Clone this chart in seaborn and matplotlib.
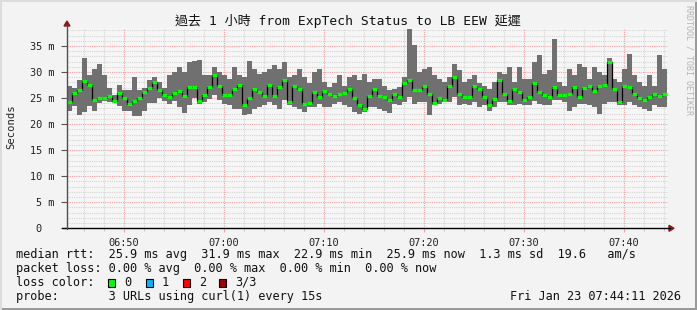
import numpy as np
import pandas as pd
import matplotlib
matplotlib.use("Agg")
import matplotlib.pyplot as plt
from matplotlib.lines import Line2D
from matplotlib.patches import Rectangle, Polygon
import seaborn as sns

# ---------------- data ----------------
start_minute = 44 + 20 / 60      # 06:44:20 expressed as minutes after 06:00
step_minutes = 0.5

rtt_max = [
    27.3, 27.0, 28.5, 32.7, 29.5, 30.5, 31.5, 29.5, 27.0, 25.5, 27.5, 26.5, 26.5, 29.0, 26.5, 27.0, 28.5, 29.0, 28.0, 27.0,
    29.4, 30.0, 31.0, 30.0, 32.0, 32.2, 32.4, 29.4, 29.4, 31.0, 30.0, 29.4, 28.7, 31.0, 29.4, 29.0, 32.2, 30.6, 29.7, 30.0,
    30.6, 31.3, 30.6, 31.9, 29.0, 29.4, 30.6, 29.0, 27.8, 30.0, 30.6, 28.1, 27.1, 27.8, 29.4, 27.4, 29.0, 29.4, 28.4, 29.7,
    28.1, 28.7, 28.7, 27.4, 26.5, 26.8, 27.1, 29.0, 38.3, 35.1, 30.0, 30.6, 31.0, 29.4, 28.7, 28.1, 29.0, 31.6, 30.3, 28.1,
    28.7, 29.4, 27.8, 27.4, 26.8, 28.1, 30.0, 29.7, 31.0, 28.1, 31.0, 28.7, 28.7, 31.9, 33.2, 29.7, 30.3, 36.4, 28.1, 27.4,
    30.6, 29.4, 31.6, 31.0, 28.7, 31.0, 30.0, 29.4, 32.6, 28.7, 28.1, 30.6, 33.5, 29.4, 28.1, 27.4, 29.4, 27.4, 33.2, 30.6,
]
rtt_min = [
    22.5, 23.5, 21.8, 22.4, 23.5, 22.5, 24.0, 24.5, 24.3, 24.2, 23.5, 22.5, 22.5, 21.5, 21.5, 22.5, 24.0, 24.0, 25.0, 24.5,
    23.9, 24.5, 23.3, 22.2, 23.6, 25.0, 23.9, 24.2, 24.9, 25.5, 24.6, 23.9, 23.6, 22.9, 22.9, 21.8, 22.0, 22.9, 23.3, 23.6,
    24.2, 23.6, 22.9, 24.6, 23.6, 23.3, 22.9, 22.3, 23.3, 23.3, 23.9, 23.3, 23.3, 23.9, 24.2, 23.6, 23.3, 22.3, 22.0, 22.3,
    23.3, 23.3, 22.9, 22.6, 22.2, 23.9, 23.6, 24.2, 25.2, 23.9, 24.2, 24.2, 21.7, 23.6, 23.9, 24.2, 24.2, 25.2, 23.6, 23.9,
    23.6, 24.2, 23.3, 23.6, 22.6, 23.3, 24.2, 24.2, 23.6, 23.6, 23.9, 23.6, 23.6, 24.4, 23.9, 23.6, 23.6, 24.6, 24.6, 24.2,
    22.6, 23.3, 23.9, 23.9, 23.6, 23.3, 22.0, 23.9, 24.2, 24.2, 23.6, 23.6, 24.2, 23.6, 23.3, 22.9, 22.6, 23.6, 23.3, 23.3,
]
rtt_median = [
    24.3, 26.0, 26.5, 28.3, 27.5, 24.6, 25.0, 25.0, 25.4, 24.5, 26.0, 25.0, 23.8, 24.5, 25.0, 26.2, 27.0, 28.0, 26.5, 25.5,
    25.3, 26.0, 26.3, 25.4, 27.1, 27.2, 24.4, 25.5, 27.1, 29.4, 27.3, 25.5, 25.6, 26.8, 27.6, 23.6, 25.0, 26.7, 26.2, 25.4,
    27.6, 25.4, 27.1, 28.4, 24.2, 27.4, 26.8, 23.9, 24.1, 26.2, 25.2, 26.4, 25.8, 25.4, 25.8, 26.0, 26.8, 25.0, 23.6, 22.9,
    25.4, 26.8, 25.4, 25.2, 24.6, 25.8, 25.2, 27.8, 28.4, 26.5, 26.5, 27.4, 25.8, 24.1, 25.0, 24.7, 27.4, 29.0, 25.8, 25.2,
    25.2, 27.4, 26.8, 25.2, 23.6, 24.9, 28.4, 25.8, 24.4, 26.8, 26.2, 24.6, 25.2, 27.8, 26.2, 25.5, 25.2, 27.1, 25.5, 25.5,
    25.8, 27.2, 25.2, 26.9, 27.4, 26.3, 27.4, 27.6, 31.9, 26.8, 24.2, 27.4, 27.1, 25.8, 25.0, 24.6, 25.2, 25.8, 25.4, 25.8,
]

x_tick_minutes = [50, 60, 70, 80, 90, 100]
x_tick_labels = ["06:50", "07:00", "07:10", "07:20", "07:30", "07:40"]
y_tick_values = [0, 5, 10, 15, 20, 25, 30, 35]
y_tick_labels = ["0  ", "5 m", "10 m", "15 m", "20 m", "25 m", "30 m", "35 m"]

title = "過去 1 小時 from ExpTech Status to LB EEW 延遲"
y_label = "Seconds"
legend_lines = [
    "median rtt:  25.9 ms avg  31.9 ms max  22.9 ms min  25.9 ms now  1.3 ms sd  19.6   am/s",
    "packet loss: 0.00 % avg  0.00 % max  0.00 % min  0.00 % now",
    "loss color:",
    "probe:       3 URLs using curl(1) every 15s",
]
loss_labels = ["0", "1", "2", "3/3"]
loss_colors = ["#00ff00", "#00b8ff", "#ff0000", "#a00000"]
timestamp = "Fri Jan 23 07:44:11 2026"
watermark = "RRDTOOL / TOBI OETIKER"

# ---------------- figure ----------------
W, H = 697, 310
sns.set_style("white")
plt.rcParams["font.family"] = ["DejaVu Sans Mono", "Noto Sans CJK TC"]

BG = "#f3f3f3"
fig = plt.figure(figsize=(W / 100, H / 100), dpi=100, facecolor=BG)

x0, x1 = 67, 668          # plot area pixels
ytop, ybot = 28, 228.3
ax = fig.add_axes([x0 / W, (H - ybot) / H, (x1 - x0) / W, (ybot - ytop) / H])
ax.set_facecolor("#f6f6f6")

df = pd.DataFrame({
    "time": [start_minute + i * step_minutes for i in range(len(rtt_median))],
    "rmin": rtt_min,
    "rmax": rtt_max,
    "median": rtt_median,
})
t_edges = list(df["time"]) + [df["time"].iloc[-1] + step_minutes]

# grid
grid_minor = "#d4d4d4"
grid_major = "#f4a0a0"
ax.set_xticks(x_tick_minutes)
ax.set_xticklabels(x_tick_labels)
ax.set_xticks(np.arange(46, 104.5, 2), minor=True)
ax.set_yticks(y_tick_values)
ax.set_yticklabels(y_tick_labels)
ax.set_yticks(np.arange(0, 39, 1), minor=True)
ax.grid(which="minor", color=grid_minor, linestyle=(0, (1, 1)), linewidth=0.8)
ax.grid(which="major", color=grid_major, linestyle=(0, (1, 1)), linewidth=0.8)
ax.set_axisbelow(True)

# smoke
ax.fill_between(t_edges, rtt_min + [rtt_min[-1]], rtt_max + [rtt_max[-1]],
                step="post", color="#707070", linewidth=0, zorder=2)

# median: black step line and green segments
sns.lineplot(data=df, x="time", y="median", drawstyle="steps-post",
             color="black", linewidth=0.9, ax=ax, zorder=3, legend=False)
ax.hlines(df["median"], df["time"], df["time"] + step_minutes,
          color="#00ff00", linewidth=2.3, zorder=4)

ax.set_xlim(44.3, 104.4)
ax.set_ylim(0, 38.45)
ax.set_xlabel("")
ax.set_ylabel("")
for s in ax.spines.values():
    s.set_visible(False)

ax.tick_params(axis="x", which="major", length=3, color=grid_major, pad=4,
               labelsize=7.4, labelcolor="#222222", direction="out")
ax.tick_params(axis="x", which="minor", length=2, color="#bbbbbb", direction="out")
ax.tick_params(axis="y", which="major", length=4, color="#555555", pad=5,
               labelsize=7.4, labelcolor="#222222", direction="out")
ax.tick_params(axis="y", which="minor", length=0)
ax.tick_params(bottom=True, left=True, which="both")


def fx(px):
    return px / W


def fy(py):
    return 1 - py / H


# axis lines with arrows
fig.add_artist(Line2D([fx(62), fx(670)], [fy(ybot), fy(ybot)], color="black", lw=1.0))
fig.add_artist(Line2D([fx(x0), fx(x0)], [fy(ybot + 1), fy(25)], color="#505050", lw=1.0))
fig.add_artist(Polygon([[fx(669), fy(ybot - 3)], [fx(669), fy(ybot + 3)], [fx(674), fy(ybot)]],
                       closed=True, color="#8b1a1a", transform=fig.transFigure))
fig.add_artist(Polygon([[fx(x0 - 3), fy(26)], [fx(x0 + 3), fy(26)], [fx(x0), fy(21)]],
                       closed=True, color="#8b1a1a", transform=fig.transFigure))

# title, labels
fig.text(fx(348), fy(21.5), title, ha="center", va="center", fontsize=9.4, color="#111111")
fig.text(fx(11), fy(127), y_label, rotation=90, ha="center", va="center", fontsize=7.6, color="#222222")
fig.text(fx(689), fy(60), watermark, rotation=270, ha="center", va="center",
         fontsize=6.0, color="#b4b4b4")

# legend
lfs = 8.55
line_y = [254.3, 268.3, 282.3, 296.3]
for txt, yy in zip(legend_lines, line_y):
    fig.text(fx(16), fy(yy), txt, ha="left", va="center", fontsize=lfs, color="#111111")

sq_x = [108, 146, 183, 219]
for lab, col, sx in zip(loss_labels, loss_colors, sq_x):
    fig.add_artist(Rectangle((fx(sx), fy(287)), 7 / W, 8 / H, facecolor=col,
                             edgecolor="black", linewidth=0.8, transform=fig.transFigure))
    fig.text(fx(sx + 16), fy(282.3), lab, ha="left", va="center", fontsize=lfs, color="#111111")

fig.text(fx(681), fy(296.3), timestamp, ha="right", va="center", fontsize=lfs, color="#111111")

# 3D-style frame
fig.add_artist(Rectangle((0, 0), 1, 2.5 / H, facecolor="#9a9a9a", edgecolor="none", transform=fig.transFigure))
fig.add_artist(Rectangle((1 - 2.5 / W, 0), 2.5 / W, 1, facecolor="#9a9a9a", edgecolor="none", transform=fig.transFigure))
fig.add_artist(Rectangle((0, 1 - 2 / H), 1, 2 / H, facecolor="#dcdcdc", edgecolor="none", transform=fig.transFigure))
fig.add_artist(Rectangle((0, 0), 2 / W, 1, facecolor="#dcdcdc", edgecolor="none", transform=fig.transFigure))

fig.savefig("out.png", dpi=100, facecolor=BG)
